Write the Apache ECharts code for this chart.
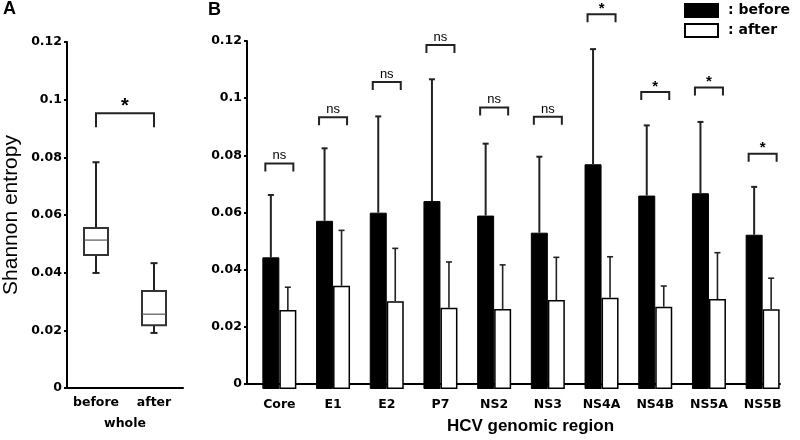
<!DOCTYPE html>
<html>
<head>
<meta charset="utf-8">
<script src="https://cdn.jsdelivr.net/npm/echarts@6/dist/echarts.min.js"></script>
<style>html,body{margin:0;padding:0;background:#fff}#c{width:800px;height:440px}</style>
</head>
<body>
<div id="c"></div>
<script>
// Panel A: whole-genome box plots [min, Q1, median, Q3, max]
var groupsA = ['before', 'after'];
var boxBefore = [0.0399, 0.0461, 0.0513, 0.0555, 0.0783];
var boxAfter = [0.0191, 0.0218, 0.0256, 0.0336, 0.0433];
var sigA = 0.0953;
var sigALabel = '*';

// Panel B: per region means and error-bar tops
var categories = ['Core', 'E1', 'E2', 'P7', 'NS2', 'NS3', 'NS4A', 'NS4B', 'NS5A', 'NS5B'];
var beforeMean = [0.0454, 0.0580, 0.0608, 0.0648, 0.0598, 0.0539, 0.0775, 0.0667, 0.0675, 0.0532];
var beforeErrTop = [0.0669, 0.0830, 0.0940, 0.1068, 0.0846, 0.0801, 0.1172, 0.0909, 0.0921, 0.0697];
var afterMean = [0.0272, 0.0356, 0.0303, 0.0280, 0.0276, 0.0307, 0.0315, 0.0284, 0.0310, 0.0275];
var afterErrTop = [0.0351, 0.0547, 0.0485, 0.0438, 0.0428, 0.0454, 0.0456, 0.0355, 0.0470, 0.0382];
var sigLabels = ['ns', 'ns', 'ns', 'ns', 'ns', 'ns', '*', '*', '*', '*'];
var sigHeights = [0.0778, 0.0937, 0.1059, 0.1186, 0.0971, 0.0939, 0.1292, 0.1024, 0.1040, 0.0811];

var yTicks = {min: 0, max: 0.12, interval: 0.02};

var tickFont = {fontFamily: 'DejaVu Sans', fontWeight: 'bold', fontSize: 12.5, color: '#000'};
var BAR_W = 17;

function yAxisVisible(gridIndex) {
  return {
    type: 'value', gridIndex: gridIndex, min: yTicks.min, max: yTicks.max, interval: yTicks.interval,
    axisLine: {show: true, lineStyle: {color: '#000', width: 2}},
    axisTick: {show: true, length: 3, lineStyle: {color: '#000', width: 2}},
    axisLabel: Object.assign({margin: 5}, tickFont),
    splitLine: {show: false}
  };
}

var chart = echarts.init(document.getElementById('c'));

var option = {
  backgroundColor: '#fff',
  animation: false,
  title: [
    {text: 'A', left: 3, top: 0, padding: 0, textStyle: {fontFamily: 'Liberation Sans', fontWeight: 'bold', fontSize: 18, color: '#000'}},
    {text: 'B', left: 208, top: 1, padding: 0, textStyle: {fontFamily: 'Liberation Sans', fontWeight: 'bold', fontSize: 18, color: '#000'}}
  ],
  legend: {
    orient: 'vertical', left: 684, top: 3, itemWidth: 33, itemHeight: 13, itemGap: 5, padding: 0,
    icon: 'rect',
    data: ['before', 'after'],
    formatter: function (n) { return ': ' + n; },
    textStyle: {fontFamily: 'DejaVu Sans', fontWeight: 'bold', fontSize: 14, color: '#000', padding: [0, 0, 0, 5]}
  },
  grid: [
    {left: 63, top: 42, width: 120, height: 346},      // panel A
    {left: 252.5, top: 41, width: 537, height: 348},   // panel B bars
    {left: 247, top: 41, width: 533, height: 348}      // panel B axes lines
  ],
  xAxis: [
    {
      type: 'category', gridIndex: 0, data: groupsA,
      axisLine: {show: true, lineStyle: {color: '#000', width: 2}},
      axisTick: {show: false},
      axisLabel: Object.assign({margin: 8, interval: 0, hideOverlap: false}, tickFont),
      name: 'whole', nameLocation: 'middle', nameGap: 29,
      nameTextStyle: tickFont
    },
    {
      type: 'category', gridIndex: 1, data: categories,
      axisLine: {show: false}, axisTick: {show: false},
      axisLabel: Object.assign({margin: 9, interval: 0}, tickFont)
    },
    {
      type: 'value', gridIndex: 2, min: 0, max: 1,
      axisLine: {show: true, lineStyle: {color: '#000', width: 2}},
      axisTick: {show: false}, axisLabel: {show: false}, splitLine: {show: false},
      name: 'HCV genomic region', nameLocation: 'middle', nameGap: 34,
      nameTextStyle: {fontFamily: 'Liberation Sans', fontWeight: 'bold', fontSize: 17, color: '#000', padding: [0, 0, 0, 34]}
    }
  ],
  yAxis: [
    Object.assign(yAxisVisible(0), {
      name: 'Shannon entropy', nameLocation: 'middle', nameGap: 45, nameRotate: 90,
      nameTextStyle: {fontFamily: 'Liberation Sans', fontSize: 21, color: '#000'}
    }),
    {type: 'value', gridIndex: 1, min: yTicks.min, max: yTicks.max, interval: yTicks.interval, show: false},
    yAxisVisible(2)
  ],
  series: [
    // Panel A box plots
    {
      type: 'custom', xAxisIndex: 0, yAxisIndex: 0, clip: false,
      data: [[0].concat(boxBefore), [1].concat(boxAfter)],
      encode: {x: 0, y: [1, 2, 3, 4, 5]},
      renderItem: function (params, api) {
        var i = api.value(0);
        var pMin = api.coord([i, api.value(1)]);
        var pQ1 = api.coord([i, api.value(2)]);
        var pMed = api.coord([i, api.value(3)]);
        var pQ3 = api.coord([i, api.value(4)]);
        var pMax = api.coord([i, api.value(5)]);
        var x = pMed[0], hw = 12, cap = 3.5;
        var st = {stroke: '#222', lineWidth: 2, fill: null};
        return {
          type: 'group', children: [
            {type: 'line', shape: {x1: x, y1: pQ3[1], x2: x, y2: pMax[1]}, style: st},
            {type: 'line', shape: {x1: x - cap, y1: pMax[1], x2: x + cap, y2: pMax[1]}, style: st},
            {type: 'line', shape: {x1: x, y1: pQ1[1], x2: x, y2: pMin[1]}, style: st},
            {type: 'line', shape: {x1: x - cap, y1: pMin[1], x2: x + cap, y2: pMin[1]}, style: st},
            {type: 'rect', shape: {x: x - hw, y: pQ3[1], width: 2 * hw, height: pQ1[1] - pQ3[1]}, style: {fill: '#fff', stroke: '#333', lineWidth: 2}},
            {type: 'line', shape: {x1: x - hw, y1: pMed[1], x2: x + hw, y2: pMed[1]}, style: {stroke: '#555', lineWidth: 1.2}}
          ]
        };
      }
    },
    // Panel A significance bracket
    {
      type: 'custom', xAxisIndex: 0, yAxisIndex: 0, clip: false,
      data: [[0, 1, sigA]],
      encode: {x: [0, 1], y: 2},
      renderItem: function (params, api) {
        var a = api.coord([api.value(0), api.value(2)]);
        var b = api.coord([api.value(1), api.value(2)]);
        var leg = 14;
        return {
          type: 'group', children: [
            {type: 'polyline', shape: {points: [[a[0], a[1] + leg], [a[0], a[1]], [b[0], b[1]], [b[0], b[1] + leg]]}, style: {stroke: '#222', lineWidth: 2, fill: null}},
            {type: 'text', style: {text: sigALabel, x: (a[0] + b[0]) / 2, y: a[1] + 3, align: 'center', verticalAlign: 'bottom', fontFamily: 'Liberation Sans', fontWeight: 'bold', fontSize: 20, fill: '#000'}}
          ]
        };
      }
    },
    // Panel B bars
    {
      name: 'before', type: 'bar', xAxisIndex: 1, yAxisIndex: 1, data: beforeMean,
      barWidth: BAR_W, barGap: '0%',
      itemStyle: {color: '#000', borderColor: '#000', borderWidth: 1}
    },
    {
      name: 'after', type: 'bar', xAxisIndex: 1, yAxisIndex: 1, data: afterMean,
      barWidth: BAR_W, barGap: '0%',
      itemStyle: {color: '#fff', borderColor: '#000', borderWidth: 1.5}
    },
    // Error bars (before)
    {
      type: 'custom', xAxisIndex: 1, yAxisIndex: 1, z: 3,
      data: categories.map(function (c, i) { return [i, beforeMean[i], beforeErrTop[i]]; }),
      encode: {x: 0, y: [1, 2]},
      renderItem: function (params, api) {
        var p0 = api.coord([api.value(0), api.value(1)]);
        var p1 = api.coord([api.value(0), api.value(2)]);
        var x = p0[0] - BAR_W / 2;
        var st = {stroke: '#222', lineWidth: 2};
        return {type: 'group', children: [
          {type: 'line', shape: {x1: x, y1: p0[1], x2: x, y2: p1[1]}, style: st},
          {type: 'line', shape: {x1: x - 3, y1: p1[1], x2: x + 3, y2: p1[1]}, style: st}
        ]};
      }
    },
    // Error bars (after)
    {
      type: 'custom', xAxisIndex: 1, yAxisIndex: 1, z: 3,
      data: categories.map(function (c, i) { return [i, afterMean[i], afterErrTop[i]]; }),
      encode: {x: 0, y: [1, 2]},
      renderItem: function (params, api) {
        var p0 = api.coord([api.value(0), api.value(1)]);
        var p1 = api.coord([api.value(0), api.value(2)]);
        var x = p0[0] + BAR_W / 2;
        var st = {stroke: '#222', lineWidth: 1.6};
        return {type: 'group', children: [
          {type: 'line', shape: {x1: x, y1: p0[1], x2: x, y2: p1[1]}, style: st},
          {type: 'line', shape: {x1: x - 3, y1: p1[1], x2: x + 3, y2: p1[1]}, style: st}
        ]};
      }
    },
    // Significance brackets
    {
      type: 'custom', xAxisIndex: 1, yAxisIndex: 1, z: 3, clip: false,
      data: categories.map(function (c, i) { return [i, sigHeights[i]]; }),
      encode: {x: 0, y: 1},
      renderItem: function (params, api) {
        var i = params.dataIndex;
        var c = api.coord([api.value(0), api.value(1)]);
        var hw = 14, leg = 8;
        var lab = sigLabels[i];
        var isStar = lab === '*';
        return {type: 'group', children: [
          {type: 'polyline', shape: {points: [[c[0] - hw, c[1] + leg], [c[0] - hw, c[1]], [c[0] + hw, c[1]], [c[0] + hw, c[1] + leg]]}, style: {stroke: '#222', lineWidth: 2, fill: null}},
          {type: 'text', style: {text: lab, x: c[0], y: isStar ? c[1] + 2 : c[1] - 1, align: 'center', verticalAlign: 'bottom',
            fontFamily: 'Liberation Sans', fontWeight: isStar ? 'bold' : 'normal', fontSize: isStar ? 15 : 13, fill: '#000'}}
        ]};
      }
    }
  ]
};
chart.setOption(option);
</script>
</body>
</html>
